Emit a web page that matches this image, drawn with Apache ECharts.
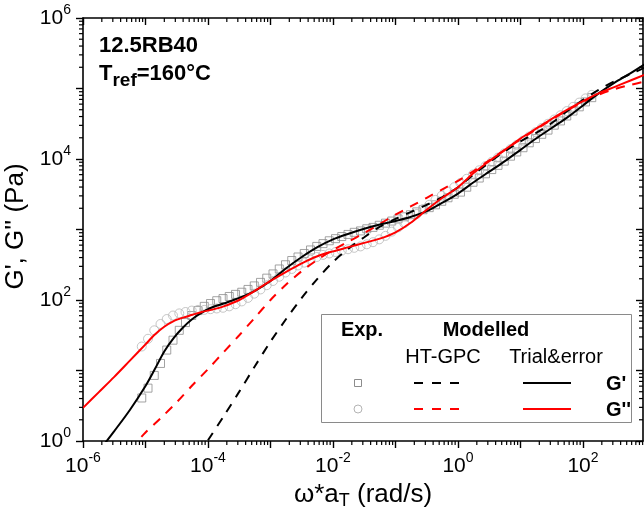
<!DOCTYPE html>
<html>
<head>
<meta charset="utf-8">
<script src="https://cdn.jsdelivr.net/npm/echarts@6/dist/echarts.min.js"></script>
<style>
html, body { margin: 0; background: #fff; }
#chart { width: 644px; height: 508px; }
</style>
</head>
<body>
<div id="chart"></div>
<script>
// all values are log10: omega*aT (rad/s) and G', G'' (Pa)
var expLogW = [-5.06, -4.96, -4.86, -4.76, -4.66, -4.56, -4.46, -4.36, -4.26, -4.16,
  -4.06, -3.96, -3.86, -3.76, -3.66, -3.56, -3.46, -3.36, -3.26, -3.16,
  -3.06, -2.96, -2.86, -2.76, -2.66, -2.56, -2.46, -2.36, -2.26, -2.16,
  -2.06, -1.96, -1.86, -1.76, -1.66, -1.56, -1.46, -1.36, -1.26, -1.16,
  -1.06, -0.96, -0.86, -0.76, -0.66, -0.56, -0.46, -0.36, -0.26, -0.16,
  -0.06, 0.04, 0.14, 0.24, 0.34, 0.44, 0.54, 0.64, 0.74, 0.84,
  0.94, 1.04, 1.14, 1.24, 1.34, 1.44, 1.54, 1.64, 1.74, 1.84,
  1.94, 2.04, 2.14]
var expLogGp = [0.61, 0.75, 0.93, 1.10, 1.29, 1.43, 1.57, 1.68, 1.78, 1.85,
  1.91, 1.95, 1.99, 2.02, 2.05, 2.08, 2.11, 2.15, 2.20, 2.25,
  2.31, 2.37, 2.44, 2.50, 2.56, 2.61, 2.66, 2.71, 2.76, 2.80,
  2.84, 2.87, 2.90, 2.93, 2.96, 2.98, 3.01, 3.03, 3.06, 3.09,
  3.12, 3.15, 3.18, 3.21, 3.25, 3.28, 3.31, 3.35, 3.40, 3.45,
  3.50, 3.53, 3.60, 3.67, 3.73, 3.79, 3.85, 3.91, 3.97, 4.04,
  4.10, 4.16, 4.23, 4.29, 4.35, 4.41, 4.48, 4.54, 4.61, 4.68,
  4.74, 4.81, 4.87]
var expLogGpp = [1.34, 1.45, 1.57, 1.66, 1.73, 1.78, 1.81, 1.83, 1.85, 1.86,
  1.86, 1.87, 1.88, 1.89, 1.91, 1.94, 1.98, 2.03, 2.09, 2.15,
  2.21, 2.27, 2.33, 2.39, 2.44, 2.49, 2.53, 2.57, 2.61, 2.64,
  2.66, 2.68, 2.70, 2.72, 2.74, 2.76, 2.79, 2.82, 2.86, 2.91,
  2.97, 3.03, 3.09, 3.16, 3.22, 3.29, 3.35, 3.42, 3.48, 3.54,
  3.60, 3.66, 3.72, 3.78, 3.84, 3.90, 3.96, 4.02, 4.08, 4.14,
  4.20, 4.26, 4.32, 4.38, 4.44, 4.50, 4.56, 4.62, 4.68, 4.74,
  4.80, 4.86, 4.91]

// Trial&error model
var trialLogW = [-6.0, -5.75, -5.5, -5.25, -5.0, -4.85, -4.7, -4.55, -4.4, -4.25, -4.1, -3.95,
  -3.75, -3.5, -3.25, -3.0, -2.75, -2.5, -2.25, -2.0, -1.75, -1.5, -1.25, -1.0,
  -0.75, -0.5, -0.25, 0.0, 0.25, 0.5, 0.75, 1.0, 1.25, 1.5, 1.75, 2.0,
  2.25, 2.5, 2.75, 3.0]
var trialLogGp = [-0.45, -0.15, 0.14, 0.44, 0.78, 1.02, 1.27, 1.46, 1.61, 1.73, 1.82, 1.89,
  1.95, 2.03, 2.13, 2.27, 2.45, 2.61, 2.75, 2.86, 2.94, 3.01, 3.07, 3.12,
  3.18, 3.26, 3.38, 3.51, 3.67, 3.82, 3.97, 4.13, 4.29, 4.44, 4.59, 4.76,
  4.93, 5.08, 5.21, 5.35]
var trialLogGpp = [0.47, 0.69, 0.91, 1.14, 1.37, 1.51, 1.62, 1.70, 1.75, 1.79, 1.83, 1.86,
  1.91, 2.00, 2.13, 2.27, 2.40, 2.52, 2.62, 2.69, 2.75, 2.81, 2.87, 2.96,
  3.10, 3.28, 3.45, 3.60, 3.80, 3.97, 4.13, 4.29, 4.43, 4.57, 4.70, 4.82,
  4.93, 5.02, 5.11, 5.20]

// HT-GPC model
var gpcGpW = [-4.0, -3.75, -3.5, -3.25, -3.0, -2.75, -2.5, -2.25, -2.0, -1.75,
  -1.5, -1.25, -1.0, -0.75, -0.5, -0.25, 0.0, 0.25, 0.5, 0.75,
  1.0, 1.25, 1.5, 1.75, 2.0, 2.25, 2.5, 2.75, 3.0]
var gpcGp = [0.01, 0.35, 0.70, 1.06, 1.41, 1.73, 2.03, 2.30, 2.54, 2.73,
  2.89, 3.04, 3.15, 3.25, 3.35, 3.46, 3.60, 3.78, 3.95, 4.11,
  4.25, 4.37, 4.51, 4.68, 4.84, 4.98, 5.10, 5.20, 5.30]
var gpcGppW = [-5.25, -5.0, -4.75, -4.5, -4.25, -4.0, -3.75, -3.5, -3.25, -3.0,
  -2.75, -2.5, -2.25, -2.0, -1.75, -1.5, -1.25, -1.0, -0.75, -0.5,
  -0.25, 0.0, 0.25, 0.5, 0.75, 1.0, 1.25, 1.5, 1.75, 2.0,
  2.25, 2.5, 2.75, 3.0]
var gpcGpp = [-0.12, 0.12, 0.33, 0.55, 0.79, 1.02, 1.26, 1.50, 1.75, 2.00,
  2.22, 2.41, 2.57, 2.71, 2.83, 2.95, 3.08, 3.21, 3.33, 3.45,
  3.57, 3.69, 3.83, 3.98, 4.13, 4.28, 4.42, 4.56, 4.69, 4.81,
  4.91, 4.99, 5.05, 5.10]

// axes (decades)
var xMin = -6, xMax = 2.96
var yMin = 0, yMax = 6
var xMajor = [-6, -5, -4, -3, -2, -1, 0, 1, 2]
var xLabels = [-6, -4, -2, 0, 2]
var yMajor = [0, 1, 2, 3, 4, 5, 6]
var yLabels = [0, 2, 4, 6]
var minorSteps = [2, 3, 4, 5, 6, 7, 8, 9]

var font = 'Liberation Sans, Arial, sans-serif'

function pairs (xs, ys) {
  return xs.map(function (x, i) { return [x, ys[i]] })
}

function minorList (decades, max) {
  var out = []
  decades.forEach(function (d) {
    minorSteps.forEach(function (k) {
      var v = d + Math.log10(k)
      if (v < max) out.push([v, 0])
    })
  })
  return out
}

var tickStyle = { stroke: '#000', lineWidth: 1.2 }

var myChart = echarts.init(document.getElementById('chart'))

var labelRich = {
  b: { fontSize: 21, fontFamily: font, color: '#000', lineHeight: 30 },
  sup: { fontSize: 14, fontFamily: font, color: '#000', lineHeight: 14, verticalAlign: 'top' }
}
function powLabel (v) {
  return '{b|10}{sup|' + v + '}'
}

var axisLineStyle = { color: '#000', width: 1.6 }

var option = {
  animation: false,
  grid: { left: 83, right: 1, top: 18, bottom: 67, outerBoundsMode: 'none' },
  xAxis: [
    {
      type: 'value',
      min: xMin,
      max: xMax,
      interval: 1,
      position: 'bottom',
      splitLine: { show: false },
      axisLine: { onZero: false, lineStyle: axisLineStyle },
      axisTick: { inside: false, length: 7, customValues: xMajor, lineStyle: { color: '#000', width: 1.4 } },
      axisLabel: { customValues: xLabels, margin: 10, formatter: powLabel, rich: labelRich },
      name: '{g|ω*a}{s|T}{g| (rad/s)}',
      nameLocation: 'middle',
      nameGap: 31,
      nameTextStyle: {
        rich: {
          g: { fontSize: 26, fontFamily: font, color: '#000', lineHeight: 32 },
          s: { fontSize: 18, fontFamily: font, color: '#000', lineHeight: 16, verticalAlign: 'bottom' }
        }
      }
    },
    {
      type: 'value',
      min: xMin,
      max: xMax,
      interval: 1,
      position: 'top',
      splitLine: { show: false },
      axisLine: { onZero: false, lineStyle: axisLineStyle },
      axisTick: { inside: true, length: 7, customValues: xMajor, lineStyle: { color: '#000', width: 1.4 } },
      axisLabel: { show: false }
    }
  ],
  yAxis: [
    {
      type: 'value',
      min: yMin,
      max: yMax,
      interval: 1,
      position: 'left',
      splitLine: { show: false },
      axisLine: { onZero: false, lineStyle: axisLineStyle },
      axisTick: { inside: false, length: 7, customValues: yMajor, lineStyle: { color: '#000', width: 1.4 } },
      axisLabel: { customValues: yLabels, margin: 12, formatter: powLabel, rich: labelRich },
      name: "G', G'' (Pa)",
      nameLocation: 'middle',
      nameGap: 49,
      nameTextStyle: { fontSize: 26, fontFamily: font, color: '#000', padding: [0, 0, 0, 6] }
    },
    {
      type: 'value',
      min: yMin,
      max: yMax,
      interval: 1,
      position: 'right',
      splitLine: { show: false },
      axisLine: { onZero: false, lineStyle: axisLineStyle },
      axisTick: { inside: true, length: 7, customValues: yMajor, lineStyle: { color: '#000', width: 1.4 } },
      axisLabel: { show: false }
    }
  ],
  graphic: [
    {
      type: 'text', x: 99, y: 46, z: 20,
      style: { text: '12.5RB40', font: 'bold 22px ' + font, fill: '#000', verticalAlign: 'middle' }
    },
    {
      type: 'text', x: 99, y: 74, z: 20,
      style: {
        text: '{b|T}{s|ref}{b|=160°C}',
        verticalAlign: 'middle',
        rich: {
          b: { fontSize: 22, fontWeight: 'bold', fontFamily: font, color: '#000', lineHeight: 32 },
          s: { fontSize: 19, fontWeight: 'bold', fontFamily: font, color: '#000', lineHeight: 18, verticalAlign: 'bottom' }
        }
      }
    },
    // legend table
    {
      type: 'rect', z: 20,
      shape: { x: 321.5, y: 314.5, width: 310, height: 108 },
      style: { fill: '#fff', stroke: '#8a8a8a', lineWidth: 1 }
    },
    { type: 'text', x: 362, y: 330, z: 21, style: { text: 'Exp.', font: 'bold 20px ' + font, fill: '#000', align: 'center', verticalAlign: 'middle' } },
    { type: 'text', x: 486, y: 330, z: 21, style: { text: 'Modelled', font: 'bold 20px ' + font, fill: '#000', align: 'center', verticalAlign: 'middle' } },
    { type: 'text', x: 443, y: 357, z: 21, style: { text: 'HT-GPC', font: '20px ' + font, fill: '#000', align: 'center', verticalAlign: 'middle' } },
    { type: 'text', x: 556, y: 357, z: 21, style: { text: 'Trial&error', font: '20px ' + font, fill: '#000', align: 'center', verticalAlign: 'middle' } },
    { type: 'rect', z: 21, shape: { x: 354.5, y: 379.5, width: 7, height: 7 }, style: { fill: 'none', stroke: '#8c8c8c', lineWidth: 1 } },
    { type: 'circle', z: 21, shape: { cx: 358, cy: 409, r: 4 }, style: { fill: 'none', stroke: '#b4b4b4', lineWidth: 1 } },
    { type: 'line', z: 21, shape: { x1: 414, y1: 383, x2: 459, y2: 383 }, style: { stroke: '#000', lineWidth: 2, lineDash: [9, 9] } },
    { type: 'line', z: 21, shape: { x1: 414, y1: 409, x2: 459, y2: 409 }, style: { stroke: '#ff0000', lineWidth: 2, lineDash: [9, 9] } },
    { type: 'line', z: 21, shape: { x1: 523, y1: 383, x2: 571, y2: 383 }, style: { stroke: '#000', lineWidth: 2 } },
    { type: 'line', z: 21, shape: { x1: 523, y1: 409, x2: 571, y2: 409 }, style: { stroke: '#ff0000', lineWidth: 2 } },
    { type: 'text', x: 606, y: 384, z: 21, style: { text: "G'", font: 'bold 20px ' + font, fill: '#000', verticalAlign: 'middle' } },
    { type: 'text', x: 606, y: 410, z: 21, style: { text: "G''", font: 'bold 20px ' + font, fill: '#000', verticalAlign: 'middle' } }
  ],
  series: [
    {
      name: 'Exp G\'',
      type: 'scatter',
      data: pairs(expLogW, expLogGp),
      symbol: 'rect',
      symbolSize: 8,
      itemStyle: { color: 'transparent', borderColor: '#8c8c8c', borderWidth: 1 },
      z: 2
    },
    {
      name: 'Exp G\'\'',
      type: 'scatter',
      data: pairs(expLogW, expLogGpp),
      symbol: 'circle',
      symbolSize: 9,
      itemStyle: { color: 'transparent', borderColor: '#b8b8b8', borderWidth: 1 },
      z: 2
    },
    {
      name: 'HT-GPC G\'',
      type: 'line',
      data: pairs(gpcGpW, gpcGp),
      showSymbol: false,
      smooth: 0.3,
      lineStyle: { color: '#000', width: 2, type: [9, 8] },
      z: 3
    },
    {
      name: 'HT-GPC G\'\'',
      type: 'line',
      data: pairs(gpcGppW, gpcGpp),
      showSymbol: false,
      smooth: 0.3,
      lineStyle: { color: '#ff0000', width: 2, type: [9, 8] },
      z: 3
    },
    {
      name: 'Trial G\'',
      type: 'line',
      data: pairs(trialLogW, trialLogGp),
      showSymbol: false,
      smooth: 0.3,
      lineStyle: { color: '#000', width: 2 },
      z: 4
    },
    {
      name: 'Trial G\'\'',
      type: 'line',
      data: pairs(trialLogW, trialLogGpp),
      showSymbol: false,
      smooth: 0.3,
      lineStyle: { color: '#ff0000', width: 2 },
      z: 4
    },
    {
      // minor ticks on bottom and top
      type: 'custom',
      silent: true,
      data: minorList(xMajor, xMax),
      renderItem: function (params, api) {
        var v = api.value(0)
        var lo = api.coord([v, yMin])
        var hi = api.coord([v, yMax])
        return {
          type: 'group',
          children: [
            { type: 'line', shape: { x1: lo[0], y1: lo[1], x2: lo[0], y2: lo[1] + 4 }, style: tickStyle },
            { type: 'line', shape: { x1: hi[0], y1: hi[1], x2: hi[0], y2: hi[1] + 4 }, style: tickStyle }
          ]
        }
      },
      z: 5
    },
    {
      // minor ticks on left and right
      type: 'custom',
      silent: true,
      data: minorList(yMajor, yMax).map(function (p) { return [0, p[0]] }),
      renderItem: function (params, api) {
        var v = api.value(1)
        var lo = api.coord([xMin, v])
        var hi = api.coord([xMax, v])
        return {
          type: 'group',
          children: [
            { type: 'line', shape: { x1: lo[0] - 4, y1: lo[1], x2: lo[0], y2: lo[1] }, style: tickStyle },
            { type: 'line', shape: { x1: hi[0] - 4, y1: hi[1], x2: hi[0], y2: hi[1] }, style: tickStyle }
          ]
        }
      },
      z: 5
    }
  ]
}

myChart.setOption(option)
</script>
</body>
</html>
